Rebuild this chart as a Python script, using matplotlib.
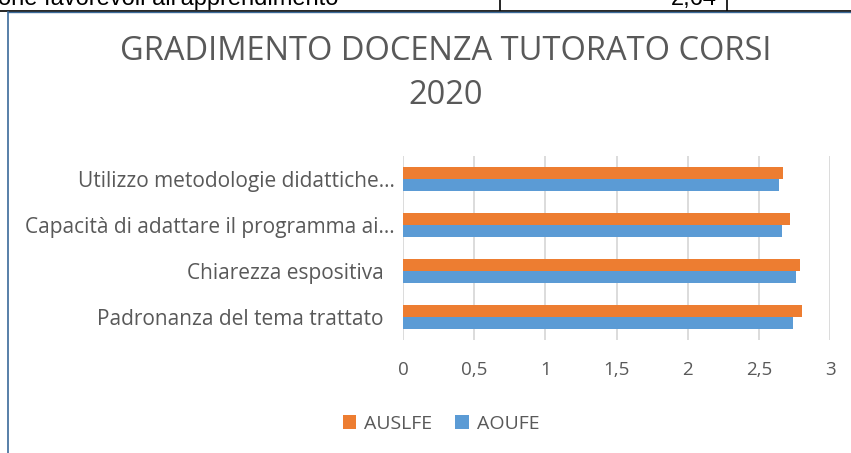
import matplotlib.pyplot as plt
import numpy as np

# Data
categories = ['Padronanza del tema trattato  ', 'Chiarezza espositiva  ',
              'Capacità di adattare il programma ai…', 'Utilizzo metodologie didattiche…']
auslfe = [2.80, 2.79, 2.72, 2.67]
aoufe = [2.74, 2.76, 2.66, 2.64]
xticks = [0, 0.5, 1, 1.5, 2, 2.5, 3]
xtick_labels = ['0', '0,5', '1', '1,5', '2', '2,5', '3']

W, H = 851, 453
GRAY = '#595959'
ORANGE = '#ED7D31'
BLUE = '#5B9BD5'

plt.rcParams['font.family'] = ['Open Sans', 'DejaVu Sans']

fig = plt.figure(figsize=(W / 100, H / 100), dpi=100)
fig.patch.set_facecolor('white')

# table fragment above the chart (cut off at the top of the picture)
fig.text(-2 / W, 1 - 5 / H, "one favorevoli all'apprendimento", family='Liberation Sans',
         fontsize=17, color='black', va='baseline', ha='left')
fig.text(717 / W, 1 - 5 / H, '2,64', family='Liberation Sans',
         fontsize=17, color='black', va='baseline', ha='right')
fig.add_artist(plt.Line2D([0, 1], [1 - 10.5 / H, 1 - 10.5 / H], color='black', lw=1.2))
for xp in (500, 727):
    fig.add_artist(plt.Line2D([xp / W, xp / W], [1 - 10 / H, 1], color='black', lw=1.2))
# chart frame edges
fig.add_artist(plt.Line2D([8 / W, 1], [1 - 12 / H, 1 - 12 / H], color='#3B6A9A', lw=1))
fig.add_artist(plt.Line2D([8 / W, 8 / W], [0, 1 - 12 / H], color='#3B6A9A', lw=1.2))

ax = fig.add_axes([403 / W, 1 - 340 / H, (830 - 403) / W, (340 - 156) / H])
y = np.arange(len(categories))
h = 0.26
ax.barh(y + h / 2, auslfe, height=h, color=ORANGE, label='AUSLFE', zorder=3)
ax.barh(y - h / 2, aoufe, height=h, color=BLUE, label='AOUFE', zorder=3)

ax.set_xlim(0, 3)
ax.set_ylim(-0.5, len(categories) - 0.5)
ax.set_xticks(xticks)
ax.set_xticklabels(xtick_labels)
ax.set_yticks(y)
ax.set_yticklabels(categories)
ax.tick_params(axis='both', length=0, colors=GRAY)
ax.tick_params(axis='x', pad=15, labelsize=13.5)
ax.tick_params(axis='y', pad=6, labelsize=15)
ax.grid(axis='x', color='#D9D9D9', lw=1.3, zorder=0)
for s in ax.spines.values():
    s.set_visible(False)

fig.text(446 / W, 1 - 51 / H, 'GRADIMENTO DOCENZA TUTORATO CORSI', ha='center', va='center',
         fontsize=23.5, color=GRAY)
fig.text(446 / W, 1 - 96 / H, '2020', ha='center', va='center', fontsize=23.5, color=GRAY)

leg = fig.legend(loc='center', bbox_to_anchor=(441 / W, 1 - 424 / H), ncol=2, frameon=False,
                 fontsize=14, handlelength=0.7, handleheight=0.7, handletextpad=0.4,
                 columnspacing=1.2, labelcolor=GRAY)

fig.savefig('out.png', dpi=100)
